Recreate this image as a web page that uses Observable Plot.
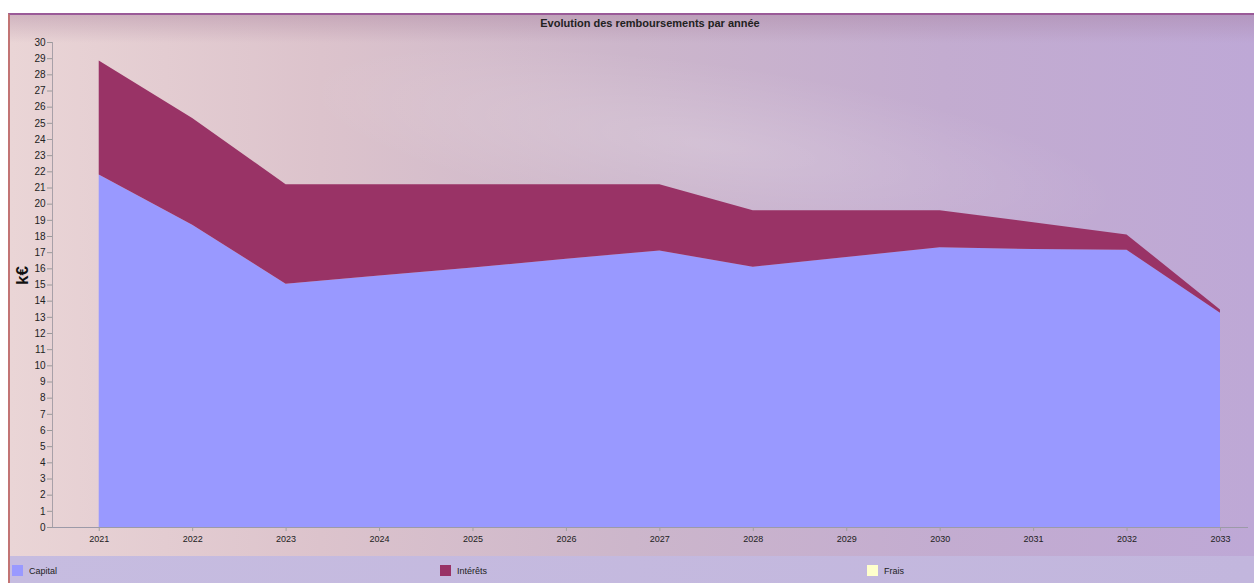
<!DOCTYPE html>
<html>
<head>
<meta charset="utf-8">
<script src="https://cdn.jsdelivr.net/npm/d3@7"></script>
<script src="https://cdn.jsdelivr.net/npm/@observablehq/plot@0.6"></script>
<style>
  html, body { margin: 0; padding: 0; background: #ffffff; }
  #wrap { position: relative; width: 1254px; height: 583px; overflow: hidden; font-family: "Liberation Sans", Arial, sans-serif; }
  #panel { position: absolute; left: 8px; top: 13px; right: 0; bottom: 0;
    background: linear-gradient(90deg, #ead5d6 0%, #dcc3cc 25%, #ccb6cb 50%, #c3acd0 75%, #bea8d6 100%);
    border-top: 2px solid #9a5a98; border-left: 2px solid #c27474; box-sizing: border-box; }
  #panel::before { content: ""; position: absolute; left: 0; right: 0; top: 0; height: 28px;
    background: linear-gradient(180deg, rgba(160,120,150,0.35), rgba(160,120,150,0)); }
  #swoosh { position: absolute; left: 250px; top: 40px; width: 900px; height: 180px;
    background: radial-gradient(ellipse at 50% 50%, rgba(255,255,255,0.18) 0%, rgba(255,255,255,0) 65%);
    transform: rotate(8deg); }
  #title { position: absolute; left: 0; width: 1300px; top: 17px; text-align: center; font-weight: bold; font-size: 11px; color: #222; }
  #legend { position: absolute; left: 10px; right: 0; top: 556px; height: 27px;
    background: linear-gradient(90deg, #c6bce0, #c2b6dd); font-size: 9px; color: #222; }
  .item { position: absolute; top: 9px; display: flex; align-items: center; }
  .sw { width: 11px; height: 11px; margin-right: 6px; }
  #chart { position: absolute; left: 0; top: 30px; }
</style>
</head>
<body>
<div id="wrap">
  <div id="panel"><div id="swoosh"></div></div>
  <div id="title">Evolution des remboursements par année</div>
  <div id="chart"></div>
  <div id="legend"></div>
</div>
<script>
const years = [2021, 2022, 2023, 2024, 2025, 2026, 2027, 2028, 2029, 2030, 2031, 2032, 2033];
const capital = [21.8, 18.7, 15.05, 15.55, 16.05, 16.6, 17.1, 16.1, 16.7, 17.3, 17.2, 17.15, 13.25];
const interets = [7.05, 6.6, 6.15, 5.65, 5.15, 4.6, 4.1, 3.5, 2.9, 2.3, 1.65, 0.95, 0.2];
const frais = [0, 0, 0, 0, 0, 0, 0, 0, 0, 0, 0, 0, 0];
const seriesNames = ["Capital", "Intérêts", "Frais"];
const seriesColors = ["#9999ff", "#993366", "#ffffcc"];
const yTicks = d3.range(0, 31);
const yLabel = "k€";
const titleText = "Evolution des remboursements par année";

const valuesBySeries = [capital, interets, frais];
const data = [];
seriesNames.forEach((s, i) => {
  years.forEach((y, j) => data.push({ year: y, value: valuesBySeries[i][j], series: s }));
});

const chart = Plot.plot({
  width: 1254,
  height: 523,
  marginLeft: 52,
  marginRight: 6,
  marginTop: 12,
  marginBottom: 26,
  style: { background: "transparent", fontFamily: "Liberation Sans, Arial, sans-serif", color: "#222" },
  x: { type: "linear", domain: [2020.5, 2033.3] },
  y: { domain: [0, 30] },
  color: { domain: seriesNames, range: seriesColors },
  marks: [
    Plot.areaY(data, { x: "year", y: "value", fill: "series", order: seriesNames }),
    Plot.ruleY([0], { stroke: "#9c9aa8" }),
    Plot.ruleX([2020.5], { stroke: "#a8a0a8" }),
    Plot.axisY({ ticks: yTicks, tickSize: 5, tickPadding: 2, fontSize: 10, stroke: "#9a9a9a", label: null, tickFormat: d => String(d) }),
    Plot.axisX({ ticks: years, tickSize: 4, tickPadding: 4, fontSize: 9, stroke: "#a0a0a0", label: null, tickFormat: d => String(d) }),
    Plot.text([yLabel], { frameAnchor: "left", dx: -30, rotate: -90, fontSize: 17, fontWeight: "bold", fill: "#111" })
  ]
});
document.getElementById("chart").appendChild(chart);
document.getElementById("title").textContent = titleText;

const legendPos = [2, 430, 857];
const legend = document.getElementById("legend");
seriesNames.forEach((s, i) => {
  const it = document.createElement("div");
  it.className = "item";
  it.style.left = legendPos[i] + "px";
  const sw = document.createElement("div");
  sw.className = "sw";
  sw.style.background = seriesColors[i];
  const t = document.createElement("span");
  t.textContent = s;
  it.appendChild(sw); it.appendChild(t);
  legend.appendChild(it);
});
</script>
</body>
</html>
